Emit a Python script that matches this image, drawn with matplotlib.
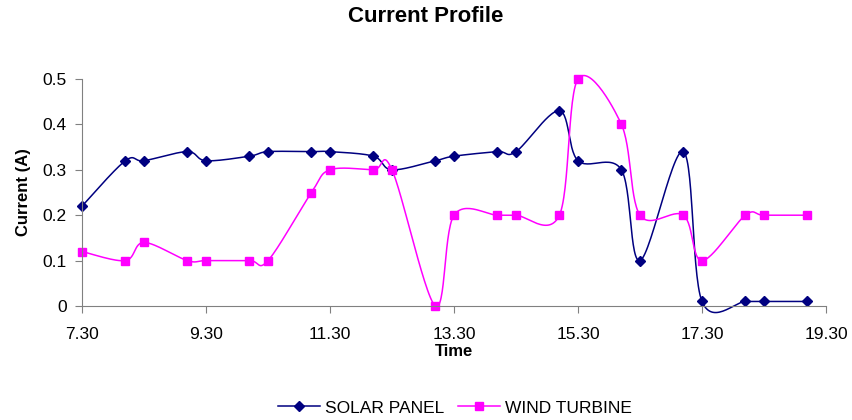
import numpy as np
import matplotlib
matplotlib.use("Agg")
from matplotlib import pyplot as plt

plt.rcParams['font.family'] = ['Liberation Sans', 'DejaVu Sans']

# time as h.mm written like a decimal number (as in the source sheet)
times = [7.30, 8.00, 8.30, 9.00, 9.30, 10.00, 10.30, 11.00, 11.30, 12.00, 12.30, 13.00,
         13.30, 14.00, 14.30, 15.00, 15.30, 16.00, 16.30, 17.00, 17.30, 18.00, 18.30, 19.00]
solar = [0.22, 0.32, 0.32, 0.34, 0.32, 0.33, 0.34, 0.34, 0.34, 0.33, 0.30, 0.32,
         0.33, 0.34, 0.34, 0.43, 0.32, 0.30, 0.10, 0.34, 0.01, 0.01, 0.01, 0.01]
wind = [0.12, 0.10, 0.14, 0.10, 0.10, 0.10, 0.10, 0.25, 0.30, 0.30, 0.30, 0.00,
        0.20, 0.20, 0.20, 0.20, 0.50, 0.40, 0.20, 0.20, 0.10, 0.20, 0.20, 0.20]
xticks = [7.3, 9.3, 11.3, 13.3, 15.3, 17.3, 19.3]
xtick_labels = ["7.30", "9.30", "11.30", "13.30", "15.30", "17.30", "19.30"]


def smooth(x, y, n=30):
    # excel-style bezier smoothing
    p = np.column_stack([x, y]).astype(float)
    pts = np.vstack([p[0], p, p[-1]])
    out = []
    t = np.linspace(0, 1, n)[:, None]
    for i in range(1, len(pts) - 2):
        p0, p1, p2, p3 = pts[i - 1], pts[i], pts[i + 1], pts[i + 2]
        c1 = p1 + (p2 - p0) / 6
        c2 = p2 - (p3 - p1) / 6
        seg = ((1 - t) ** 3) * p1 + 3 * ((1 - t) ** 2) * t * c1 + 3 * (1 - t) * t ** 2 * c2 + t ** 3 * p2
        out.append(seg if i == 1 else seg[1:])
    out = np.vstack(out)
    return out[:, 0], out[:, 1]


fig = plt.figure(figsize=(8.52, 4.2), dpi=100)
ax = fig.add_axes([82 / 852, 1 - 306 / 420, (826 - 82) / 852, (306 - 79) / 420])

sx, sy = smooth(times, solar)
wx, wy = smooth(times, wind)
ax.plot(sx, sy, color='#000080', lw=1.1, clip_on=False)
ax.plot(times, solar, ls='none', marker='D', ms=5.5, color='#000080', clip_on=False)
ax.plot(wx, wy, color='#FF00FF', lw=1.1, clip_on=False)
ax.plot(times, wind, ls='none', marker='s', ms=5.5, color='#FF00FF', clip_on=False)

# legend handles
ax.plot([], [], color='#000080', marker='D', ms=5.5, lw=1.1, label='SOLAR PANEL')
ax.plot([], [], color='#FF00FF', marker='s', ms=5.5, lw=1.1, label='WIND TURBINE')

ax.set_xlim(7.3, 19.3)
ax.set_ylim(0, 0.5)
ax.set_xticks(xticks)
ax.set_xticklabels(xtick_labels)
ax.set_yticks([0, 0.1, 0.2, 0.3, 0.4, 0.5])
ax.set_yticklabels(["0", "0.1", "0.2", "0.3", "0.4", "0.5"])
for s in ['top', 'right']:
    ax.spines[s].set_visible(False)
for s in ['left', 'bottom']:
    ax.spines[s].set_color('#808080')
ax.tick_params(direction='out', length=5, color='#808080', labelsize=12.5)
ax.tick_params(axis='x', pad=10)
ax.tick_params(axis='y', pad=6)

ax.set_xlabel("Time", fontsize=12, fontweight='bold')
ax.xaxis.set_label_coords(0.5, (306 - 344) / 227)
ax.set_ylabel("Current (A)", fontsize=12, fontweight='bold')
ax.yaxis.set_label_coords((31 - 82) / 744, 0.5)
fig.text(0.5, 1 - 17 / 420, "Current Profile", ha='center', va='center',
         fontsize=16, fontweight='bold')

leg_handles = ax.get_lines()[-2:]
fig.legend(handles=leg_handles, loc='center', bbox_to_anchor=(455 / 852, 1 - 408 / 420),
           ncol=2, frameon=False, fontsize=12.5, handlelength=2.4, columnspacing=0.8,
           handletextpad=0.3)

fig.savefig("out.png", dpi=100)
